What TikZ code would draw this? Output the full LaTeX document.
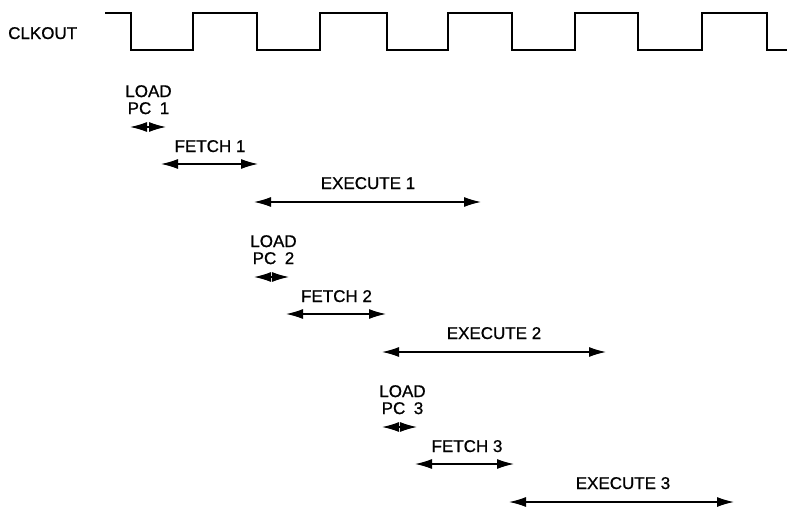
\documentclass[tikz,border=0pt]{standalone}
\usepackage{fontspec}
\setmainfont{Liberation Sans}
\newfontfamily\lblfont[FakeBold=0.8]{Liberation Sans}
\usetikzlibrary{arrows.meta}
\tikzset{
  lbl/.style={inner sep=0pt, font=\lblfont\fontsize{17}{17}\selectfont},
  span/.style={line width=1.3pt, {Latex[length=17pt,width=10pt]}-{Latex[length=17pt,width=10pt]}, shorten <=-1pt, shorten >=-1pt},
  clk/.style={line width=2.4pt, line join=miter}
}
\begin{document}
\begin{tikzpicture}[x=1pt,y=-1pt]
\useasboundingbox (0,0) rectangle (787,506);
% clock
\node[lbl, anchor=base west] (clkname) at (8,39) {CLKOUT};
\draw[clk] (105,13) -- (131,13) -- (131,50) -- (193,50) -- (193,13) -- (257,13) -- (257,50)
  -- (320,50) -- (320,13) -- (387,13) -- (387,50) -- (448,50) -- (448,13) -- (512,13) -- (512,50)
  -- (575,50) -- (575,13) -- (638,13) -- (638,50) -- (702,50) -- (702,13) -- (767,13) -- (767,50) -- (787,50);
% set 1
\node[lbl, align=center, anchor=north] (load1) at (148.5,85) {LOAD\\PC\hspace{0.5em}1};
\coordinate (l1a) at (131,127); \coordinate (l1b) at (165,127);
\draw[span] (l1a) -- (l1b);
\node[lbl, anchor=base] (fetch1) at (210,152) {FETCH 1};
\coordinate (f1a) at (162,164); \coordinate (f1b) at (257,164);
\draw[span] (f1a) -- (f1b);
\node[lbl, anchor=base] (exec1) at (368,189) {EXECUTE 1};
\coordinate (e1a) at (255,202); \coordinate (e1b) at (480,202);
\draw[span] (e1a) -- (e1b);
% set 2
\node[lbl, align=center, anchor=north] (load2) at (273.5,235) {LOAD\\PC\hspace{0.5em}2};
\coordinate (l2a) at (255,277); \coordinate (l2b) at (288,277);
\draw[span] (l2a) -- (l2b);
\node[lbl, anchor=base] (fetch2) at (336.5,302) {FETCH 2};
\coordinate (f2a) at (287,314); \coordinate (f2b) at (385,314);
\draw[span] (f2a) -- (f2b);
\node[lbl, anchor=base] (exec2) at (494,339) {EXECUTE 2};
\coordinate (e2a) at (383,352); \coordinate (e2b) at (605,352);
\draw[span] (e2a) -- (e2b);
% set 3
\node[lbl, align=center, anchor=north] (load3) at (402.5,385) {LOAD\\PC\hspace{0.5em}3};
\coordinate (l3a) at (383,427); \coordinate (l3b) at (416,427);
\draw[span] (l3a) -- (l3b);
\node[lbl, anchor=base] (fetch3) at (467,452) {FETCH 3};
\coordinate (f3a) at (416,464); \coordinate (f3b) at (513,464);
\draw[span] (f3a) -- (f3b);
\node[lbl, anchor=base] (exec3) at (623,489) {EXECUTE 3};
\coordinate (e3a) at (510,502); \coordinate (e3b) at (733,502);
\draw[span] (e3a) -- (e3b);
\end{tikzpicture}
\end{document}
